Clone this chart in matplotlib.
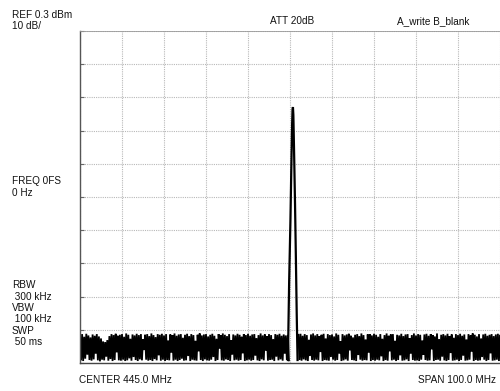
import numpy as np
import matplotlib
matplotlib.use("Agg")
import matplotlib.pyplot as plt

plt.rcParams['font.family'] = ['Liberation Sans', 'DejaVu Sans']

# ---- data ----
ref_level = 0.3          # dBm
db_per_div = 10
center_mhz = 445.0
span_mhz = 100.0

nan = float('nan')
# noise floor envelope, 0.5 MHz steps from 395 to 495 MHz (NaN where the carrier is)
noise_upper = [
    -91.6, -91.0, -91.8, -90.9, -91.4, -92.0, -91.1, -91.5, -91.0, -91.7, -92.3, -93.2, -93.4, -92.8, -91.6, -91.0, -91.3, -90.9, -91.5, -91.2,
    -91.0, -91.8, -90.8, -91.2, -92.4, -91.1, -91.4, -90.9, -91.3, -91.0, -92.6, -91.2, -91.0, -91.6, -90.8, -91.3, -91.9, -91.0, -91.2, -90.9,
    -91.4, -91.0, -92.9, -91.1, -91.3, -90.8, -91.5, -91.1, -91.0, -92.1, -91.2, -90.9, -91.6, -91.0, -91.3, -93.0, -91.2, -90.8, -91.4, -91.1,
    -91.0, -91.7, -91.2, -90.9, -91.5, -92.4, -91.0, -91.3, -90.8, -91.2, -91.6, -91.0, -92.8, -91.1, -91.4, -90.9, -91.2, -91.8, -91.0, -91.3,
    -90.9, -91.5, -91.1, -91.0, -92.2, -91.3, -90.8, -91.4, -91.1, -91.6, -91.0, -91.3, -92.5, -91.0, -91.2, -90.9, -91.5, -91.1, -91.4, -91.2,
    nan, nan, nan, nan, -91.2, -90.9, -91.5, -91.0, -91.3, -92.7, -91.1, -90.8, -91.4, -91.0, -91.6, -91.2, -90.9, -92.3, -91.0, -91.3,
    -91.1, -91.7, -90.8, -91.2, -93.1, -91.0, -91.4, -91.1, -90.9, -91.5, -92.0, -91.2, -91.0, -91.6, -90.8, -91.3, -92.6, -91.1, -91.0, -91.4,
    -90.9, -91.2, -91.8, -91.0, -92.4, -91.3, -90.8, -91.5, -91.1, -91.0, -93.0, -91.2, -91.4, -90.9, -91.6, -91.1, -91.0, -92.2, -91.3, -90.8,
    -91.4, -91.0, -91.2, -92.9, -91.1, -90.9, -91.5, -91.0, -91.3, -91.7, -90.8, -92.5, -91.2, -91.0, -91.4, -90.9, -91.6, -91.1, -92.1, -91.0,
    -91.3, -90.9, -91.5, -91.1, -92.6, -91.0, -91.4, -90.8, -91.2, -91.7, -91.0, -92.3, -91.1, -90.9, -91.5, -91.2, -91.0, -91.6, -91.1, -90.9,
    -91.2,
]
noise_lower = [
    -98.9, -99.1, -98.4, -97.2, -98.8, -99.0, -98.6, -96.9, -98.9, -99.2, -98.7, -98.9, -97.8, -99.0, -98.5, -99.1, -98.8, -96.5, -98.9, -99.0,
    -98.7, -99.1, -98.9, -98.3, -99.0, -97.9, -98.8, -99.1, -98.6, -98.9, -95.8, -98.7, -99.0, -98.8, -99.1, -98.5, -98.9, -97.4, -99.0, -98.7,
    -99.1, -98.8, -98.9, -96.6, -99.0, -98.7, -99.1, -98.8, -98.4, -99.0, -98.9, -97.6, -99.1, -98.7, -98.9, -99.0, -96.2, -98.8, -99.1, -98.6,
    -98.9, -99.0, -98.7, -97.9, -99.1, -98.8, -95.4, -98.9, -99.0, -98.6, -98.8, -99.1, -97.1, -98.9, -98.7, -99.0, -98.8, -96.8, -99.1, -98.9,
    -98.7, -99.0, -98.8, -97.5, -98.9, -99.1, -98.6, -98.9, -96.0, -99.0, -98.8, -98.7, -99.1, -97.8, -98.9, -98.6, -99.0, -96.9, -98.8, -98.9,
    nan, nan, nan, nan, -98.8, -99.0, -98.6, -98.9, -99.1, -97.6, -98.8, -99.0, -98.7, -98.9, -96.4, -99.1, -98.8, -98.9, -99.0, -97.9,
    -98.7, -99.0, -98.8, -96.8, -99.1, -98.9, -98.6, -99.0, -95.9, -98.8, -98.9, -99.1, -97.3, -98.7, -99.0, -98.8, -98.9, -96.6, -99.1, -98.8,
    -99.0, -98.7, -98.9, -97.7, -99.1, -98.8, -99.0, -96.2, -98.9, -98.7, -99.1, -98.8, -97.4, -99.0, -98.9, -98.6, -99.1, -96.9, -98.8, -99.0,
    -98.9, -99.1, -98.7, -97.2, -98.8, -99.0, -98.9, -95.6, -99.1, -98.8, -98.7, -99.0, -97.8, -98.9, -99.1, -98.8, -96.7, -99.0, -98.9, -98.7,
    -99.1, -98.8, -97.5, -99.0, -98.9, -98.7, -96.3, -99.1, -98.8, -99.0, -98.9, -97.9, -98.7, -99.1, -98.8, -96.8, -99.0, -98.9, -98.7, -99.1,
    -98.9,
]
noise_step_mhz = 0.5

# carrier trace
peak_freq = [444.5, 444.6, 444.8, 445.1, 445.3, 445.5, 445.6, 445.7, 445.8, 446.0, 446.2, 446.4, 446.6, 446.7, 446.8]
peak_level = [-98.8, -91.0, -75.0, -57.0, -42.0, -28.0, -23.5, -22.6, -25.0, -38.0, -52.0, -68.0, -85.0, -92.0, -98.8]

# ---- figure ----
W, H = 500, 391
fig = plt.figure(figsize=(W / 100, H / 100), dpi=100)
ax = fig.add_axes([80 / W, 1 - 363 / H, 420 / W, 332 / H])

f0 = center_mhz - span_mhz / 2
f1 = center_mhz + span_mhz / 2
ybot = ref_level - 10 * db_per_div

# sweep trace: alternates between the upper and lower envelope readings
up = np.array(noise_upper, dtype=float)
lo = np.array(noise_lower, dtype=float)
n = len(up)
trace_x = f0 + noise_step_mhz * np.arange(n)[:, None] + np.array([0.0, noise_step_mhz / 2])[None, :]
trace_y = np.stack([up, lo], axis=1)
ax.plot(trace_x.ravel(), trace_y.ravel(), color='black', lw=1.3, solid_joinstyle='miter')
ax.plot(peak_freq, peak_level, color='black', lw=1.6, solid_joinstyle='miter')

ax.set_xlim(f0, f1)
ax.set_ylim(ybot, ref_level)
ax.set_xticks(np.linspace(f0, f1, 11))
ax.set_yticks(np.linspace(ybot, ref_level, 11))
ax.grid(True, color='#b8b8b8', linestyle=(0, (1, 1)), linewidth=0.8)
ax.tick_params(axis='x', length=0, labelbottom=False)
ax.tick_params(axis='y', direction='in', length=3, color='#666666', labelleft=False)
ax.spines['left'].set_color('#555555')
ax.spines['left'].set_linewidth(1.0)
ax.spines['bottom'].set_color('#444444')
ax.spines['bottom'].set_linewidth(1.0)
ax.spines['top'].set_color('#999999')
ax.spines['top'].set_linewidth(0.6)
ax.spines['right'].set_visible(False)

fs = 7.2
def t(x, y, s, ha='left'):
    fig.text(x / W, 1 - y / H, s, fontsize=fs, ha=ha, va='center', color='#111111')

t(12, 15, f"REF {ref_level} dBm")
t(12, 26, f"{db_per_div} dB/")
t(270, 21, "ATT 20dB")
t(397, 21, "A_write B_blank")
t(12, 181, "FREQ 0FS")
t(12, 193, "0 Hz")
t(12, 285, "RBW")
t(12, 297, " 300 kHz")
t(12, 308, "VBW")
t(12, 319, " 100 kHz")
t(12, 331, "SWP")
t(12, 342, " 50 ms")
t(79, 380, f"CENTER {center_mhz:.1f} MHz")
t(496, 380, f"SPAN {span_mhz:.1f} MHz", ha='right')

fig.savefig("out.png", dpi=100)
